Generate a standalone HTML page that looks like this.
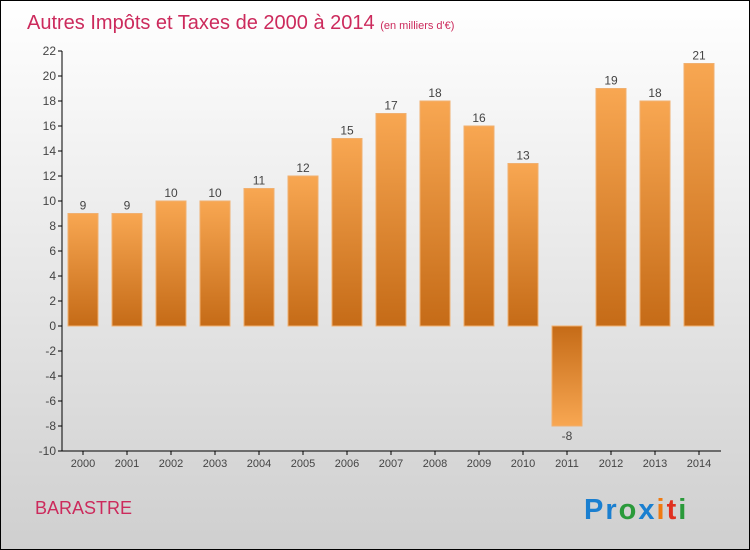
<!DOCTYPE html>
<html><head><meta charset="utf-8"><style>
body{margin:0}
#c{position:relative;width:748px;height:548px;border:1px solid #000;background:linear-gradient(#ffffff,#cfcfcf);overflow:hidden;font-family:"Liberation Sans",sans-serif}
</style></head><body>
<div id="c">
<svg width="748" height="548" id="s">
<defs>
<linearGradient id="gp" x1="0" y1="0" x2="0" y2="1"><stop offset="0" stop-color="#f8a752"/><stop offset="1" stop-color="#c56b17"/></linearGradient>
<linearGradient id="gn" x1="0" y1="0" x2="0" y2="1"><stop offset="0" stop-color="#c56b17"/><stop offset="1" stop-color="#f8a752"/></linearGradient>
</defs>
<text x="26" y="28" font-size="20" fill="#cc2a5c">Autres Impôts et Taxes de 2000 à 2014 <tspan font-size="11">(en milliers d'€)</tspan></text>
<text x="34" y="513" font-size="18" fill="#cc2a5c">BARASTRE</text>
<g font-size="29" font-family="Liberation Sans,sans-serif" font-weight="bold" letter-spacing="2">
<text x="583" y="518"><tspan fill="#1a7fd0">Pr</tspan><tspan fill="#2a9a3a">o</tspan><tspan fill="#1a7fd0">x</tspan><tspan fill="#f07a10">i</tspan><tspan fill="#e03020">t</tspan><tspan fill="#2a9a3a">i</tspan></text>
</g>
<g id="plot"></g>
</svg>
</div>
<script>
const years=["2000","2001","2002","2003","2004","2005","2006","2007","2008","2009","2010","2011","2012","2013","2014"];
const values=[9,9,10,10,11,12,15,17,18,16,13,-8,19,18,21];
const yTicks=[-10,-8,-6,-4,-2,0,2,4,6,8,10,12,14,16,18,20,22];
const NS="http://www.w3.org/2000/svg";
const g=document.getElementById('plot');
const yS=v=>325-v*12.5;
const xS=i=>82+44*i;
function mk(t,a){const e=document.createElementNS(NS,t);for(const k in a)e.setAttribute(k,a[k]);g.appendChild(e);return e;}
let ax=mk('line',{x1:61,y1:yS(22),x2:61,y2:yS(-10),stroke:'#000'});


let bx=mk('line',{x1:61,y1:yS(-10),x2:720,y2:yS(-10),stroke:'#000'});


yTicks.forEach(v=>{
  mk('line',{x1:57,y1:yS(v),x2:61,y2:yS(v),stroke:'#000'});
  const t=mk('text',{x:55,y:yS(v)+4,'text-anchor':'end','font-size':12,fill:'#444'});
  t.textContent=v;
  
  
});
years.forEach((y,i)=>{
  const x=xS(i),v=values[i];
  mk('line',{x1:x,y1:yS(-10),x2:x,y2:yS(-10)+4,stroke:'#000'});
  const t=mk('text',{x:x,y:yS(-10)+16,'text-anchor':'middle','font-size':11,fill:'#444'});
  t.textContent=y;
  
  
  const top=Math.min(yS(v),yS(0)),h=Math.abs(yS(v)-yS(0));
  const r=mk('rect',{x:x-15,y:top,width:30,height:h,fill:v>=0?'url(#gp)':'url(#gn)',stroke:'#f0b070','stroke-width':1});
  
  
  const l=mk('text',{x:x,y:v>=0?yS(v)-4:yS(v)+14,'text-anchor':'middle','font-size':12,fill:'#444'});
  l.textContent=v;
  
  
});
</script>
</body></html>
